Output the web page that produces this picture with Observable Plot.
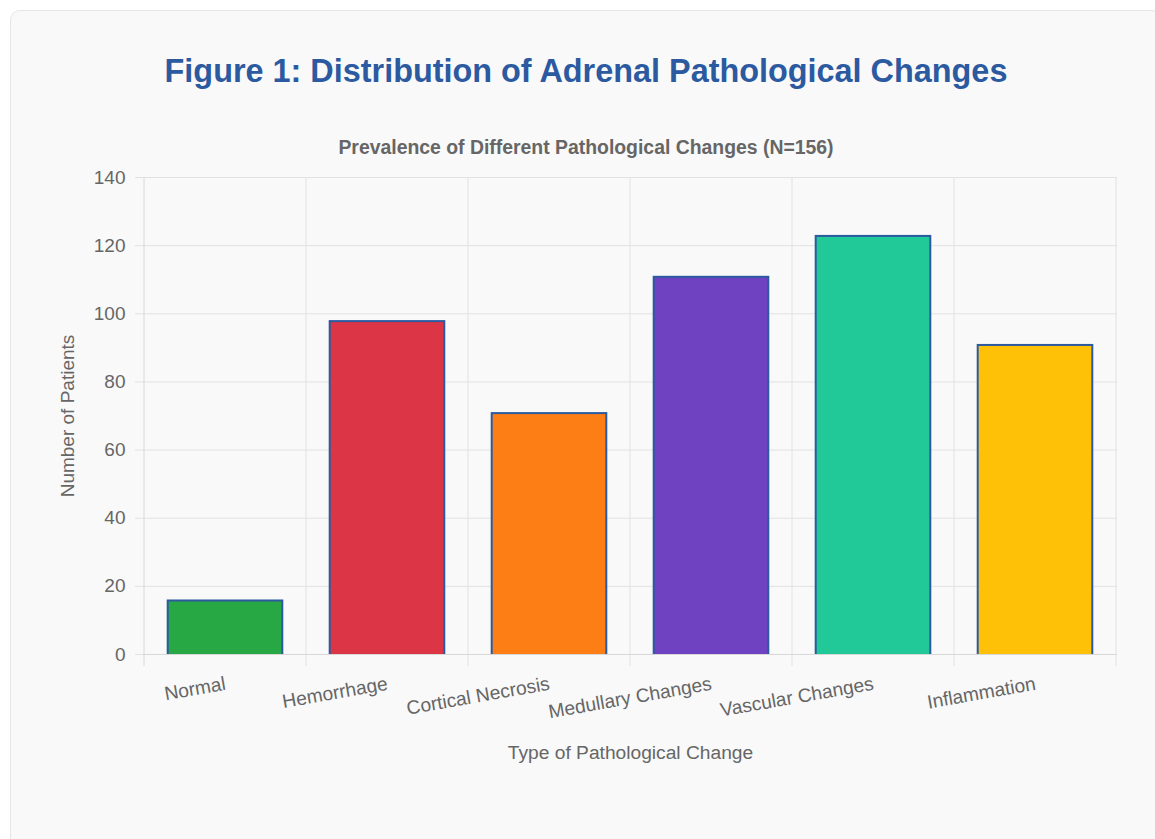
<!DOCTYPE html>
<html>
<head>
<meta charset="utf-8">
<script src="https://cdn.jsdelivr.net/npm/d3@7"></script>
<script src="https://cdn.jsdelivr.net/npm/@observablehq/plot@0.6"></script>
<style>
  html, body { margin: 0; padding: 0; background: #ffffff; }
  body { width: 1155px; height: 839px; position: relative; overflow: hidden;
         font-family: "Liberation Sans", Arial, Helvetica, sans-serif; }
  #card { position: absolute; left: 10px; top: 10px; width: 1152px; height: 860px;
          box-sizing: border-box; background: #f9f9f9; border: 1px solid #e6e6e6;
          border-radius: 10px; }
  #title { position: absolute; left: 10px; top: 55px; width: 1152px; text-align: center;
           font-size: 32.4px; line-height: 1; font-weight: bold; color: #2c5aa0; margin: 0; }
  #subtitle { position: absolute; left: 10px; top: 138px; width: 1152px; text-align: center;
              font-size: 19.4px; line-height: 1; font-weight: bold; color: #666; }
  #chart { position: absolute; left: 0; top: 160px; }
</style>
</head>
<body>
<div id="card"></div>
<h2 id="title">Figure 1: Distribution of Adrenal Pathological Changes</h2>
<div id="subtitle">Prevalence of Different Pathological Changes (N=156)</div>
<div id="chart"></div>
<script>
// ---- data ----
const categories = ["Normal", "Hemorrhage", "Cortical Necrosis", "Medullary Changes", "Vascular Changes", "Inflammation"];
const patients = [16, 98, 71, 111, 123, 91];
const barColors = ["#28a745", "#dc3545", "#fd7e14", "#6f42c1", "#20c997", "#ffc107"];
const yTicks = [0, 20, 40, 60, 80, 100, 120, 140];
const xTitle = "Type of Pathological Change";
const yTitle = "Number of Patients";

const rows = categories.map((c, i) => ({category: c, value: patients[i], color: barColors[i]}));

const gridColor = "#e2e2e2";
const axisColor = "#d8d8d8";
const textColor = "#666";

const plot = Plot.plot({
  width: 1155,
  height: 640,
  marginTop: 17,
  marginBottom: 146,
  marginLeft: 143,
  marginRight: 38,
  style: {fontFamily: '"Liberation Sans", Arial, Helvetica, sans-serif', fontSize: "19px", color: textColor, background: "transparent", overflow: "visible"},
  x: {domain: categories, padding: 0},
  y: {domain: [0, 140]},
  marks: [
    Plot.gridY(yTicks, {stroke: gridColor, strokeOpacity: 1}),
    Plot.barY(rows, {
      x: "category", y: "value", fill: d => d.color,
      stroke: "#2c5aa0", strokeWidth: 2,
      insetLeft: 23.7, insetRight: 23.7, insetTop: 1, insetBottom: -3,
      clip: true
    }),
    Plot.ruleY([0], {stroke: axisColor}),
    Plot.axisY(yTicks, {
      tickSize: 8, tickPadding: 10, stroke: gridColor, fill: textColor,
      fontSize: 19, label: yTitle, labelAnchor: "center", labelOffset: 83, labelArrow: "none"
    }),
    Plot.axisX({
      tickSize: 0, tickPadding: 29, tickRotate: -10, fill: textColor,
      fontSize: 19.2, label: xTitle, labelAnchor: "center", labelOffset: 104, labelArrow: "none"
    })
  ]
});

// vertical grid lines at the category boundaries, positioned with the plot's own scales
const xs = plot.scale("x"), ys = plot.scale("y");
const step = xs.step ?? (xs.apply(categories[1]) - xs.apply(categories[0]));
const edges = categories.map(c => xs.apply(c)).concat([xs.apply(categories[categories.length - 1]) + step]);
const svg = d3.select(plot.tagName.toLowerCase() === "svg" ? plot : plot.querySelector("svg"));
const g = svg.insert("g", "[aria-label='bar']").attr("aria-label", "x-boundaries");
g.selectAll("line").data(edges).join("line")
  .attr("x1", d => d).attr("x2", d => d)
  .attr("y1", ys.apply(yTicks[yTicks.length - 1])).attr("y2", ys.apply(0) + 12)
  .attr("stroke", (d, i) => i === 0 ? axisColor : gridColor).attr("stroke-width", 1);

document.getElementById("chart").appendChild(plot);
</script>
</body>
</html>
